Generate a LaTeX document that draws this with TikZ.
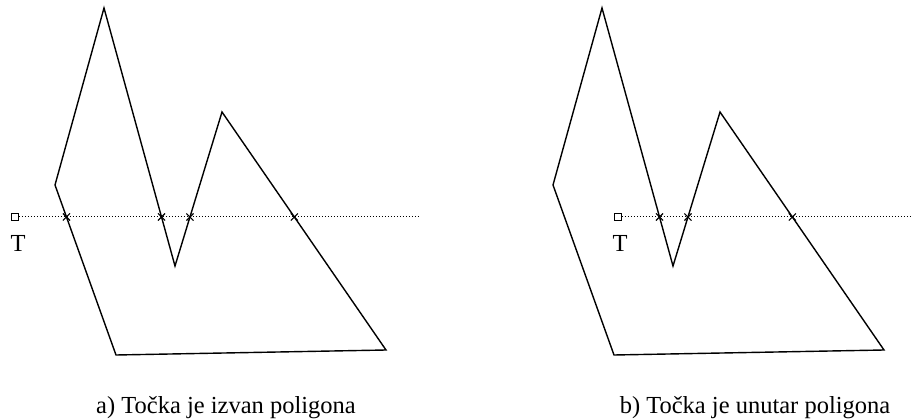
\documentclass[tikz,border=0pt]{standalone}
\usepackage{fontspec}
\setmainfont{Liberation Serif}
\usepackage{tikz}
\usetikzlibrary{calc,shapes.misc}

\begin{document}
\begin{tikzpicture}[
    x=1pt,y=-1pt,
    edge/.style={draw=black, line width=1.4pt, line join=miter},
    ray/.style={draw=black, line width=1pt, dotted},
    cut/.style={cross out, draw=black, line width=1.1pt, minimum size=6pt, inner sep=0pt},
    testpt/.style={rectangle, draw=black, line width=1pt, minimum size=6.5pt, inner sep=0pt},
    caption/.style={anchor=base, font=\fontsize{24.5}{28}\selectfont}
  ]
    \useasboundingbox (0,0) rectangle (912,419);

    % a) point outside
    \coordinate (a1) at (104,8);
    \coordinate (a2) at (175,266);
    \coordinate (a3) at (222,112);
    \coordinate (a4) at (386,350);
    \coordinate (a5) at (116,355);
    \coordinate (a6) at (55,185);
    \draw[edge] (a1) -- (a2) -- (a3) -- (a4) -- (a5) -- (a6) -- cycle;
    \node[testpt] (ta) at (15,217) {};
    \coordinate (ea) at (420,217);
    \draw[ray] (ta.east) -- (ea);
    \node[cut] (xa1) at ($(a6)!0.188!(a5)$) {};
    \node[cut] (xa2) at ($(a1)!0.81!(a2)$) {};
    \node[cut] (xa3) at ($(a2)!0.318!(a3)$) {};
    \node[cut] (xa4) at ($(a3)!0.441!(a4)$) {};
    \node[caption] (la) at (18,252) {T};
    \node[caption] (ca) at (226,413) {a) Točka je izvan poligona};

    % b) point inside
    \coordinate (b1) at (602,8);
    \coordinate (b2) at (673,266);
    \coordinate (b3) at (720,112);
    \coordinate (b4) at (884,350);
    \coordinate (b5) at (614,355);
    \coordinate (b6) at (553,185);
    \draw[edge] (b1) -- (b2) -- (b3) -- (b4) -- (b5) -- (b6) -- cycle;
    \node[testpt] (tb) at (618,217) {};
    \coordinate (eb) at (910,217);
    \draw[ray] (tb.east) -- (eb);
    \node[cut] (xb1) at ($(b1)!0.81!(b2)$) {};
    \node[cut] (xb2) at ($(b2)!0.318!(b3)$) {};
    \node[cut] (xb3) at ($(b3)!0.441!(b4)$) {};
    \node[caption] (lb) at (620,252) {T};
    \node[caption] (cb) at (755,413) {b) Točka je unutar poligona};
  \end{tikzpicture}
\end{document}
